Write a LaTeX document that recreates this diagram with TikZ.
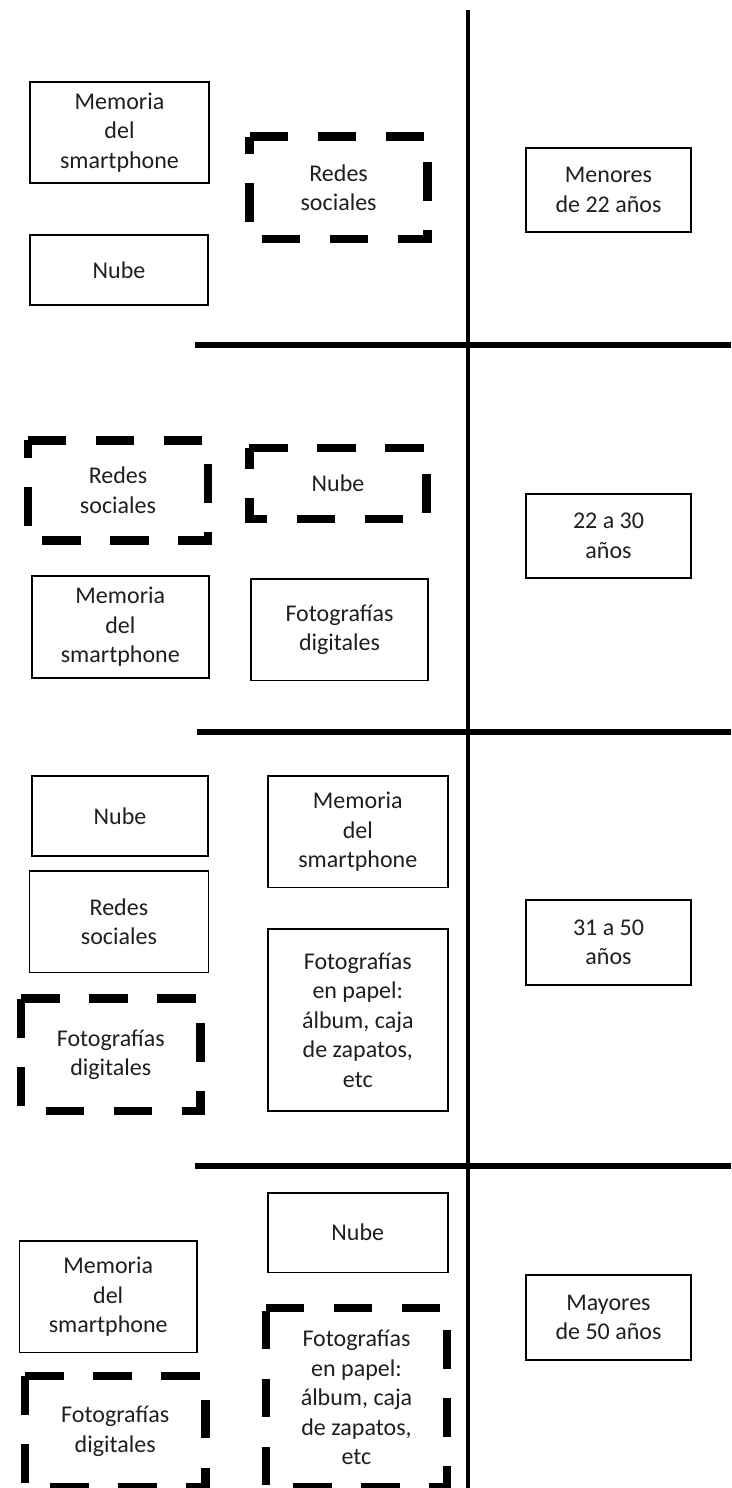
\documentclass[tikz,border=0pt]{standalone}
\usepackage{fontspec}
\setmainfont{Carlito}
\begin{document}
\begin{tikzpicture}[x=1pt,y=-1pt,
  txt/.style={align=center, inner sep=0pt, text=black!88, font=\fontsize{24}{29.5}\selectfont},
  box/.style={txt, draw=black, line width=1.8pt},
  dbox/.style={txt},
  thickdash/.style={line width=8.5pt, dash pattern=on 38.6pt off 29.4pt, line cap=butt, line join=miter},
  divider/.style={line width=6pt},
  vdivider/.style={line width=3.8pt}
  ]
\useasboundingbox (0,0) rectangle (731,1488);
\clip (0,0) rectangle (731,1488);
\fill[white] (0,0) rectangle (731,1488);

% dividers
\coordinate (vtop) at (468.3,10);
\coordinate (vbot) at (468.3,1490);
\draw[vdivider] (vtop) -- (vbot);
\draw[divider] (195,344.5) -- (731,344.5);
\draw[divider] (197,732) -- (731,732);
\draw[divider] (195,1165.5) -- (731,1165.5);

% section 1
\node[box, minimum width=179pt, minimum height=101pt] (a1) at (119.5,132.5) {Memoria\\del\\smartphone};
\node[box, minimum width=178pt, minimum height=70pt] (a2) at (119,270) {Nube};
\node[dbox, minimum width=177.8pt, minimum height=102pt] (a3) at (338.6,187.7) {Redes\\sociales};
\node[box, minimum width=165pt, minimum height=84pt] (a4) at (608.5,190) {Menores\\de 22 años};

% section 2
\node[dbox, minimum width=180pt, minimum height=100pt] (b1) at (118,490.5) {Redes\\sociales};
\node[dbox, minimum width=177pt, minimum height=70.7pt] (b2) at (338,483.4) {Nube};
\node[box, minimum width=177pt, minimum height=102pt] (b3) at (120.3,627) {Memoria\\del\\smartphone};
\node[box, minimum width=177pt, minimum height=101.5pt] (b4) at (339.5,629.7) {Fotografías\\digitales};
\node[box, minimum width=165pt, minimum height=84.5pt] (b5) at (608.5,535.9) {22 a 30\\años};

% section 3
\node[box, minimum width=176.7pt, minimum height=80pt] (c1) at (120,815.8) {Nube};
\node[box, minimum width=179pt, minimum height=101.5pt] (c2) at (118.9,921.7) {Redes\\sociales};
\node[dbox, minimum width=179.2pt, minimum height=111.7pt] (c3) at (110.8,1054.7) {Fotografías\\digitales};
\node[box, minimum width=179.6pt, minimum height=111.5pt] (c4) at (357.8,831.7) {Memoria\\del\\smartphone};
\node[box, minimum width=179.6pt, minimum height=182pt] (c5) at (357.8,1020.3) {Fotografías\\en papel:\\álbum, caja\\de zapatos,\\etc};
\node[box, minimum width=165pt, minimum height=84.5pt] (c6) at (608.5,942.5) {31 a 50\\años};

% section 4
\node[box, minimum width=179.6pt, minimum height=79.8pt] (d1) at (357.8,1232.5) {Nube};
\node[box, minimum width=177.3pt, minimum height=111.5pt] (d2) at (108.2,1296.7) {Memoria\\del\\smartphone};
\node[dbox, minimum width=179.7pt, minimum height=111pt] (d3) at (115.2,1431.5) {Fotografías\\digitales};
\node[dbox, minimum width=181pt, minimum height=179pt] (d4) at (356.5,1397.5) {Fotografías\\en papel:\\álbum, caja\\de zapatos,\\etc};
\node[box, minimum width=165pt, minimum height=84.5pt] (d5) at (608.5,1317.5) {Mayores\\de 50 años};

% dashed borders
\foreach \n in {a3,b1,b2,c3,d3,d4}{
  \draw[thickdash] (\n.north west) -- (\n.north east) -- (\n.south east) -- (\n.south west) -- cycle;
}
\end{tikzpicture}
\end{document}
